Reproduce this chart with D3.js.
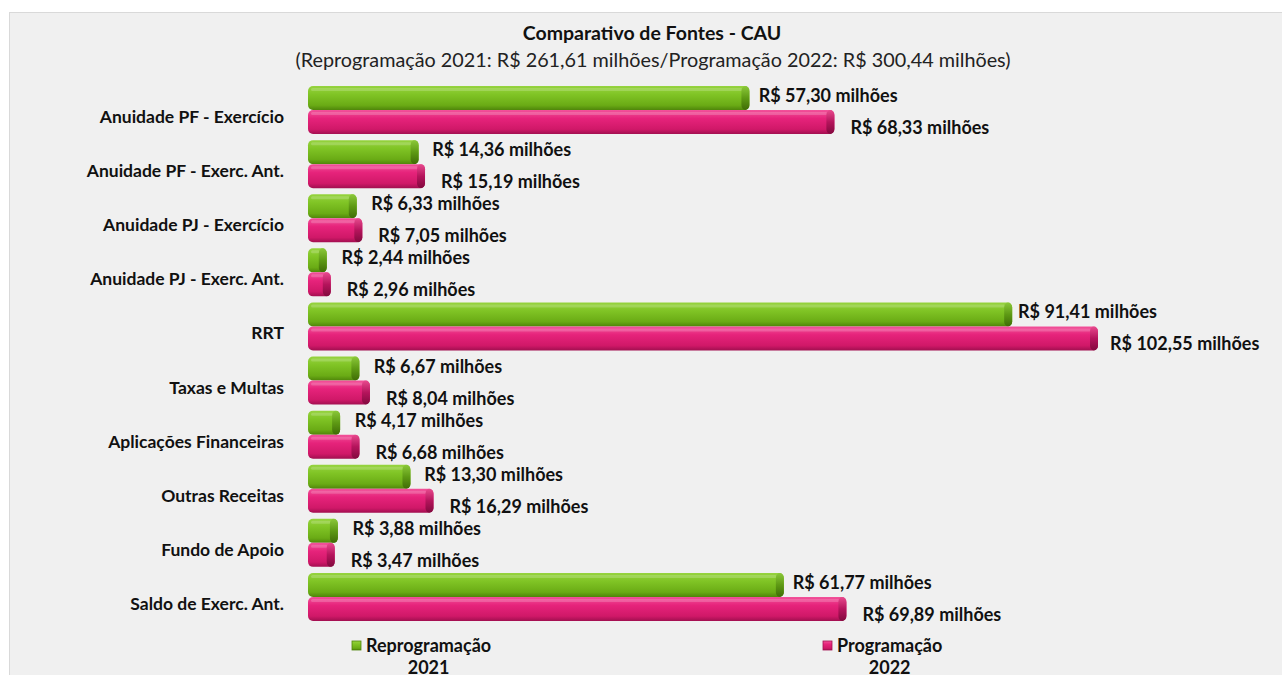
<!DOCTYPE html>
<html>
<head>
<meta charset="utf-8">
<script src="https://cdn.jsdelivr.net/npm/d3@7"></script>
<style>
  body { margin: 0; background: #ffffff; }
  text { font-family: Lato, "Open Sans", sans-serif; }
</style>
</head>
<body>
<div id="chart"></div>
<script>
// data
var categories = [
  "Anuidade PF - Exercício",
  "Anuidade PF - Exerc. Ant.",
  "Anuidade PJ - Exercício",
  "Anuidade PJ - Exerc. Ant.",
  "RRT",
  "Taxas e Multas",
  "Aplicações Financeiras",
  "Outras Receitas",
  "Fundo de Apoio",
  "Saldo de Exerc. Ant."
];
var reprog2021 = [57.30, 14.36, 6.33, 2.44, 91.41, 6.67, 4.17, 13.30, 3.88, 61.77];
var prog2022 = [68.33, 15.19, 7.05, 2.96, 102.55, 8.04, 6.68, 16.29, 3.47, 69.89];
var seriesNames = ["Reprogramação", "Programação"];
var seriesYears = ["2021", "2022"];
var title = "Comparativo de Fontes - CAU";
var subtitle = "(Reprogramação 2021: R$ 261,61 milhões/Programação 2022: R$ 300,44 milhões)";

var W = 1282, H = 675;

var svg = d3.select("#chart").append("svg")
  .attr("width", W).attr("height", H);

// panel
svg.append("rect")
  .attr("x", 9.5).attr("y", 12.5)
  .attr("width", W - 9).attr("height", H)
  .attr("fill", "#f0f0f0").attr("stroke", "#d9d9d9");

var defs = svg.append("defs");
function grad(id, stops, vertical){
  var g = defs.append("linearGradient").attr("id", id)
    .attr("x1", 0).attr("y1", 0)
    .attr("x2", vertical ? 0 : 1).attr("y2", vertical ? 1 : 0);
  stops.forEach(function(s){
    g.append("stop").attr("offset", s[0]).attr("stop-color", s[1]);
  });
}
grad("gFront", [[0, "#96d33f"], [0.35, "#80c425"], [0.8, "#6aab15"], [1, "#4f850a"]], true);
grad("gCap",   [[0, "#8bc83a"], [0.5, "#5e9a14"], [1, "#3f6c06"]], true);
grad("pFront", [[0, "#f2529a"], [0.35, "#e6237b"], [0.8, "#d01868"], [1, "#a20f50"]], true);
grad("pCap",   [[0, "#e84a8e"], [0.5, "#b5145c"], [1, "#820a3e"]], true);

var x = d3.scaleLinear().domain([0, 102.55]).range([308, 1098]);
var y = d3.scaleBand().domain(categories).range([90, 631]).padding(0);

var rows = categories.map(function(c, i){
  return { cat: c, a: reprog2021[i], b: prog2022[i] };
});

function fmt(v){
  return "R$ " + d3.format(".2f")(v).replace(".", ",") + " milhões";
}

var barH = 24;
var greenOff = d3.scaleLinear().domain([0, 100]).range([15, 5]).clamp(true);

function drawBar(sel, yTop, val, front, cap){
  var x0 = x(0), x1 = x(val);
  sel.append("rect")
    .attr("x", x0).attr("y", yTop)
    .attr("width", x1 - x0).attr("height", barH)
    .attr("rx", 5).attr("ry", 5)
    .attr("fill", "url(#" + front + ")");
  // top highlight
  sel.append("rect")
    .attr("x", x0 + 3).attr("y", yTop + 2)
    .attr("width", Math.max(0, x1 - x0 - 10)).attr("height", 3)
    .attr("rx", 1.5)
    .attr("fill", "#ffffff").attr("opacity", 0.18);
  // right end
  sel.append("rect")
    .attr("x", x1 - 8).attr("y", yTop)
    .attr("width", 8).attr("height", barH)
    .attr("rx", 4).attr("ry", 5)
    .attr("fill", "url(#" + cap + ")");
}

var g = svg.append("g");
rows.forEach(function(d){
  var c = y(d.cat) + y.bandwidth() / 2;
  var row = g.append("g");
  drawBar(row, c - 31, d.a, "gFront", "gCap");
  drawBar(row, c - 7, d.b, "pFront", "pCap");

  row.append("text")
    .attr("x", x(d.a) + greenOff(d.a)).attr("y", c - 15)
    .attr("font-size", "18px").attr("font-weight", "bold")
    .attr("fill", "#111").text(fmt(d.a));
  row.append("text")
    .attr("x", x(d.b) + (d.b > 100 ? 12 : 16)).attr("y", c + 17)
    .attr("font-size", "18px").attr("font-weight", "bold")
    .attr("fill", "#111").text(fmt(d.b));

  row.append("text")
    .attr("x", 284).attr("y", c + 6)
    .attr("text-anchor", "end")
    .attr("font-size", "17.5px").attr("font-weight", "bold")
    .attr("fill", "#111").text(d.cat);
});

// titles
svg.append("text")
  .attr("x", 652).attr("y", 40)
  .attr("text-anchor", "middle")
  .attr("font-size", "19.5px").attr("font-weight", "bold")
  .attr("fill", "#111").text(title);
svg.append("text")
  .attr("x", 653).attr("y", 67)
  .attr("text-anchor", "middle")
  .attr("font-size", "19.8px")
  .attr("fill", "#222").text(subtitle);

// legend
var legendX = [352, 823];
var legendFill = ["gFront", "pFront"];
seriesNames.forEach(function(n, i){
  var lg = svg.append("g").attr("transform", "translate(" + legendX[i] + ",0)");
  lg.append("rect")
    .attr("x", 0).attr("y", 641).attr("width", 9).attr("height", 9)
    .attr("fill", "url(#" + legendFill[i] + ")")
    .attr("stroke", i == 0 ? "#4f850a" : "#a20f50").attr("stroke-width", 0.8);
  var t = lg.append("text")
    .attr("x", 14).attr("y", 652)
    .attr("font-size", "18px").attr("font-weight", "bold")
    .attr("fill", "#111").text(n);
  var w = t.node().getComputedTextLength();
  lg.append("text")
    .attr("x", 14 + w / 2).attr("y", 674)
    .attr("text-anchor", "middle")
    .attr("font-size", "18px").attr("font-weight", "bold")
    .attr("fill", "#111").text(seriesYears[i]);
});
</script>
</body>
</html>
